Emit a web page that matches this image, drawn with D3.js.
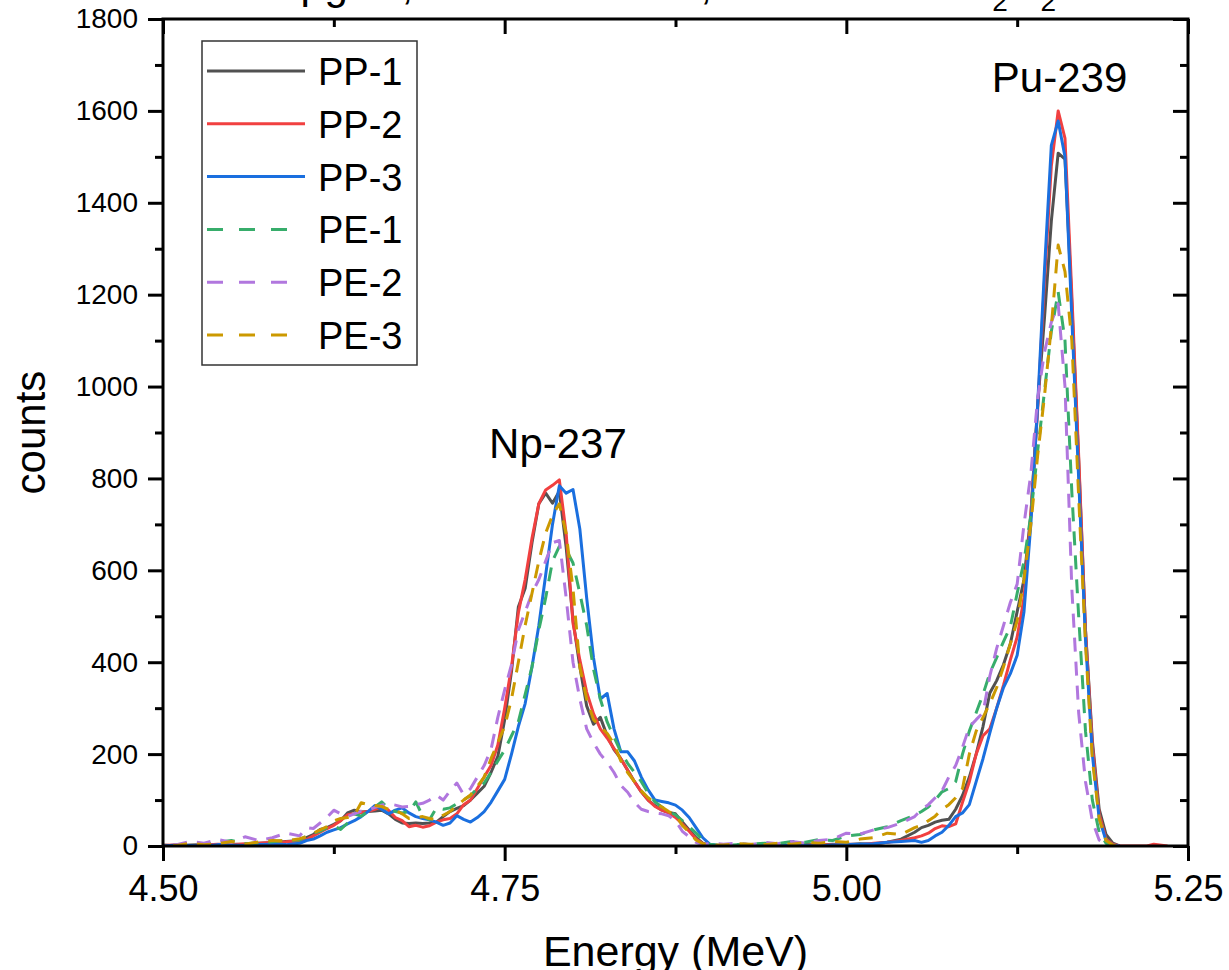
<!DOCTYPE html>
<html><head><meta charset="utf-8">
<script src="https://cdn.jsdelivr.net/npm/d3@7"></script>
<style>
body{margin:0;background:#fff}
svg{display:block}
text{font-family:"Liberation Sans",Arial,Helvetica,sans-serif;fill:#000}
</style>
</head><body>
<svg id="chart" width="1229" height="970"></svg>
<script>
// ---------- data ----------
const energy = [
 4.49,4.50,4.51,4.52,4.53,4.54,4.55,4.56,4.57,4.58,4.59,4.60,
 4.605,4.61,4.615,4.62,4.625,4.63,4.635,4.64,4.645,4.65,
 4.655,4.66,4.665,4.67,4.675,4.68,4.685,4.69,4.695,4.70,
 4.705,4.71,4.715,4.72,4.725,4.73,4.735,4.74,4.745,4.75,
 4.755,4.76,4.765,4.77,4.775,4.78,4.785,4.79,4.795,4.80,
 4.805,4.81,4.815,4.82,4.825,4.83,4.835,4.84,4.845,4.85,
 4.855,4.86,4.865,4.87,4.875,4.88,4.885,4.89,4.895,4.90,
 4.91,4.92,4.93,4.94,4.95,4.96,4.97,4.98,4.99,5.00,5.01,5.02,5.03,5.04,5.05,
 5.055,5.06,5.065,5.07,5.075,5.08,5.085,5.09,5.095,5.10,
 5.105,5.11,5.115,5.12,5.125,5.13,5.135,5.14,5.145,5.15,
 5.155,5.16,5.165,5.17,5.175,5.18,5.185,5.19,5.195,5.20,
 5.21,5.22,5.225,5.235
];
const pp1 = [
 3,2,0,2,3,1,4,3,6,7,10,12,
 18,25,36,40,47,55,72,78,74,75,
 76,78,70,58,50,49,50,49,50,52,
 64,75,82,88,100,115,130,160,195,275,
 380,520,561,660,745,768,746,772,650,492,
 390,305,265,280,240,210,190,165,140,118,
 100,88,78,73,70,52,35,18,6,2,
 0,1,0,2,1,0,3,2,4,3,5,4,8,15,30,
 40,45,52,56,58,80,110,150,200,260,
 333,360,395,440,510,580,720,960,1150,1360,
 1508,1495,1180,840,470,230,80,25,6,0,
 null,null,null,null
];
const pp2 = [
 2,1,3,0,2,4,3,5,6,8,9,11,
 14,22,30,38,45,55,68,70,73,75,
 80,86,78,62,55,42,45,41,44,52,
 57,60,70,90,100,125,150,175,220,300,
 390,507,580,670,745,775,785,797,680,485,
 405,335,288,255,235,212,190,165,140,118,
 100,86,78,72,62,48,32,15,5,1,
 1,0,0,1,2,0,1,3,2,4,3,6,8,12,18,
 22,28,38,44,42,48,95,140,200,240,
 255,300,350,405,455,540,720,950,1230,1480,
 1600,1540,1200,850,470,220,70,15,4,0,
 0,0,4,0
];
const pp3 = [
 1,0,2,1,0,3,2,1,3,4,3,6,
 12,15,22,30,35,40,48,55,64,75,
 88,80,70,78,83,72,64,60,57,52,
 45,50,66,58,52,62,75,95,120,145,
 200,260,310,390,480,590,700,784,768,776,
 690,540,410,320,332,255,205,205,185,150,
 122,100,97,94,89,78,62,40,18,4,
 0,0,1,0,0,2,1,0,2,3,4,5,8,10,12,
 8,12,22,30,45,64,72,90,140,190,
 246,300,345,375,415,510,700,960,1255,1525,
 1578,1500,1150,800,450,200,60,12,2,0,
 null,null,null,null
];
const pe1 = [
 4,2,0,5,3,8,12,5,7,9,12,13,
 22,28,32,40,44,36,50,70,65,75,
 85,96,82,75,72,75,96,65,57,83,
 80,83,92,100,110,125,137,160,185,209,
 240,270,330,390,470,540,620,652,645,616,
 550,480,385,320,270,237,205,180,160,140,
 115,96,85,75,68,55,42,28,13,4,
 0,3,4,6,5,10,8,14,12,22,25,35,42,55,67,
 75,85,100,118,125,140,200,250,290,330,
 376,410,445,477,550,620,720,860,990,1120,
 1206,1100,770,500,250,100,30,6,1,0,
 null,null,null,null
];
const pe2 = [
 8,5,3,10,6,14,8,20,12,18,28,22,
 40,38,50,62,78,70,64,70,76,78,
 84,89,92,89,85,86,90,93,100,111,
 100,120,137,112,125,150,175,210,280,340,
 395,470,510,550,580,620,660,665,540,400,
 320,255,225,200,182,160,132,117,95,80,
 75,72,70,66,55,32,20,8,3,6,
 4,6,3,8,5,10,6,12,15,28,26,35,40,50,64,
 80,90,105,120,150,175,215,259,275,290,
 370,430,480,530,570,700,810,975,1075,1140,
 1180,1000,560,290,140,55,13,3,0,0,
 null,null,null,null
];
const pe3 = [
 2,4,1,6,3,5,10,4,9,12,11,16,
 20,28,35,42,55,60,62,67,94,90,
 88,86,80,78,70,60,62,64,60,57,
 67,75,88,100,111,130,150,190,225,260,
 320,400,480,550,620,681,720,745,680,560,
 390,320,275,260,245,222,185,160,140,120,
 105,94,85,75,68,45,30,13,5,2,
 2,5,4,3,6,4,8,6,10,8,15,18,28,25,40,
 45,55,65,80,90,105,125,200,250,280,
 310,345,390,440,490,580,700,850,980,1130,
 1308,1250,1100,760,440,190,60,12,2,0,
 null,null,null,null
];
const seriesNames = ["PP-1","PP-2","PP-3","PE-1","PE-2","PE-3"];
const seriesValues = [pp1,pp2,pp3,pe1,pe2,pe3];
const seriesColors = ["#515151","#F14040","#1A6FDF","#37AD6B","#B177DE","#CC9900"];
const seriesDashed = [false,false,false,true,true,true];
const xMajorTicks = [4.50,4.75,5.00,5.25];
const xMinorTicks = [4.625,4.875,5.125];
const yMajorTicks = [0,200,400,600,800,1000,1200,1400,1600,1800];
const yMinorTicks = [100,300,500,700,900,1100,1300,1500,1700];
const peakLabels = ["Np-237","Pu-239"];
const peakEnergy = [4.789,5.156];
const peakCount  = [845,1641];
const xTitle = "Energy (MeV)";
const yTitle = "counts";
// title line, cut off by the top edge of the picture
const titleParts = ["50 μg/cc,", "10 min count,", "in 3.0 M H"];

// ---------- layout ----------
const L = 163, R = 1188, T = 19, B = 846;
const svg = d3.select("#chart");
const x = d3.scaleLinear().domain([4.5,5.25]).range([L,R]);
const y = d3.scaleLinear().domain([0,1800]).range([B,T]);

svg.append("defs").append("clipPath").attr("id","clip")
  .append("rect").attr("x",L).attr("y",T).attr("width",R-L).attr("height",B-T);

// title: only descenders / subscripts remain visible
const tY = -1;
svg.append("text").attr("x",242).attr("y",tY).style("font-size","42px").text(titleParts[0]);
svg.append("text").attr("x",712).attr("y",tY).attr("text-anchor","end")
  .style("font-size","42px").text(titleParts[1]);
const t3 = svg.append("text").attr("x",1056).attr("y",tY).attr("text-anchor","end")
  .style("font-size","42px");
t3.append("tspan").text(titleParts[2]);
t3.append("tspan").attr("dy",12).style("font-size","28px").text("2");
t3.append("tspan").attr("dy",-12).text("O");
t3.append("tspan").attr("dy",12).style("font-size","28px").text("2");

// data lines
const line = d3.line().defined(d=>d[1]!==null)
  .x(d=>x(d[0])).y(d=>y(d[1]));
const g = svg.append("g").attr("clip-path","url(#clip)");
seriesValues.forEach((vals,i)=>{
  const pts = energy.map((e,k)=>[e,vals[k]]);
  g.append("path").datum(pts).attr("d",line)
    .attr("fill","none").attr("stroke",seriesColors[i])
    .attr("stroke-width",3).attr("stroke-linejoin","round")
    .attr("stroke-dasharray",seriesDashed[i]?"14,10":null);
});

// axes
function styleAxis(sel, fs){
  sel.select(".domain").remove();
  sel.selectAll(".tick line").attr("stroke","#000").attr("stroke-width",3);
  sel.selectAll(".tick text").style("font-size",(fs||28)+"px").attr("fill","#000")
     .style("font-family","'Liberation Sans',Arial,sans-serif");
}
svg.append("g").attr("transform",`translate(0,${B})`)
  .call(d3.axisBottom(x).tickValues(xMajorTicks).tickSize(15).tickPadding(14).tickFormat(d3.format(".2f")))
  .call(s=>styleAxis(s,36));
svg.append("g").attr("transform",`translate(0,${B})`)
  .call(d3.axisBottom(x).tickValues(xMinorTicks).tickSize(8).tickFormat(""))
  .call(styleAxis);
svg.append("g").attr("transform",`translate(0,${T})`)
  .call(d3.axisBottom(x).tickValues(xMajorTicks).tickSize(15).tickFormat(""))
  .call(styleAxis);
svg.append("g").attr("transform",`translate(0,${T})`)
  .call(d3.axisBottom(x).tickValues(xMinorTicks).tickSize(8).tickFormat(""))
  .call(styleAxis);
svg.append("g").attr("transform",`translate(${L},0)`)
  .call(d3.axisLeft(y).tickValues(yMajorTicks).tickSize(15).tickPadding(10).tickFormat(d3.format("d")))
  .call(s=>styleAxis(s,28));
svg.append("g").attr("transform",`translate(${L},0)`)
  .call(d3.axisLeft(y).tickValues(yMinorTicks).tickSize(8).tickFormat(""))
  .call(styleAxis);
svg.append("g").attr("transform",`translate(${R},0)`)
  .call(d3.axisLeft(y).tickValues(yMajorTicks).tickSize(15).tickFormat(""))
  .call(styleAxis);
svg.append("g").attr("transform",`translate(${R},0)`)
  .call(d3.axisLeft(y).tickValues(yMinorTicks).tickSize(8).tickFormat(""))
  .call(styleAxis);
svg.append("rect").attr("x",L).attr("y",T).attr("width",R-L).attr("height",B-T)
  .attr("fill","none").attr("stroke","#000").attr("stroke-width",3);

// axis titles
svg.append("text").attr("x",(L+R)/2).attr("y",966).attr("text-anchor","middle")
  .style("font-size","43px").text(xTitle);
svg.append("text").attr("transform",`translate(45,${(T+B)/2}) rotate(-90)`)
  .attr("text-anchor","middle").style("font-size","42px").text(yTitle);

// peak labels
peakLabels.forEach((t,i)=>{
  svg.append("text").attr("x",x(peakEnergy[i])).attr("y",y(peakCount[i]))
    .attr("text-anchor","middle").style("font-size","42px").text(t);
});

// legend
const lg = svg.append("g");
lg.append("rect").attr("x",202).attr("y",41).attr("width",215).attr("height",324)
  .attr("fill","#fff").attr("stroke","#333").attr("stroke-width",1.5);
seriesNames.forEach((n,i)=>{
  const ry = 71 + i*52.8;
  lg.append("line").attr("x1",207).attr("x2",seriesDashed[i]?287:305)
    .attr("y1",ry).attr("y2",ry).attr("stroke",seriesColors[i]).attr("stroke-width",3)
    .attr("stroke-dasharray",seriesDashed[i]?"16,16":null);
  lg.append("text").attr("x",318).attr("y",ry+14).style("font-size","38px").text(n);
});
</script>
</body></html>
